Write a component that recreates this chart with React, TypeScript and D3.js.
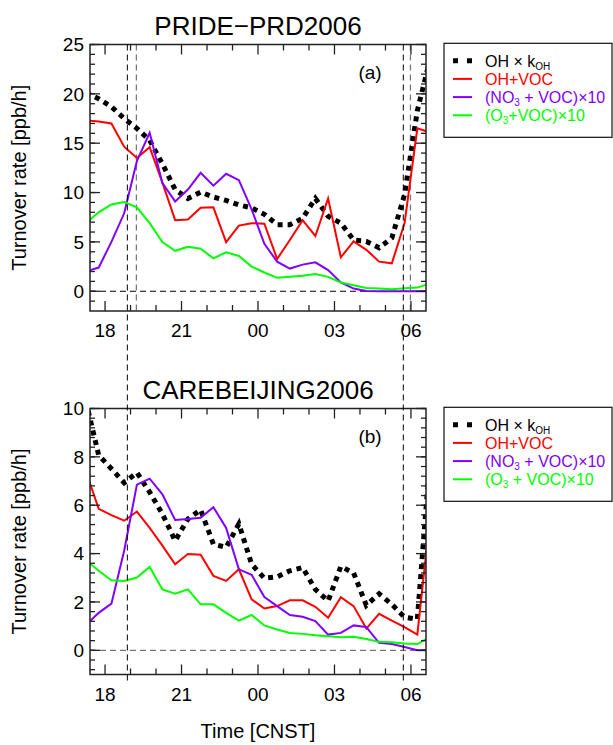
import React, { useEffect, useRef } from 'react';
import * as d3 from 'd3';

// half-hour time stamps, hours since midnight of the first day (24 = 00, 30 = 06)
const hours = [17.25, 17.75, 18.25, 18.75, 19.25, 19.75, 20.25, 20.75, 21.25, 21.75, 22.25, 22.75, 23.25, 23.75,
  24.25, 24.75, 25.25, 25.75, 26.25, 26.75, 27.25, 27.75, 28.25, 28.75, 29.25, 29.75, 30.25, 30.75];

const xTickHours = [18, 21, 24, 27, 30];
const xTickLabels = ['18', '21', '00', '03', '06'];

// PRIDE-PRD2006
const prdOHk = [20.1, 19.5, 18.7, 17.5, 16.5, 15.3, 12.9, 10.3, 9.4, 10.05, 9.55, 9.2, 8.75, 8.45,
  7.8, 6.75, 6.75, 7.4, 9.4, 7.6, 6.9, 5.2, 5.05, 4.4, 5.4, 9.8, 18.3, 23.5];
const prdOHVOC = [17.3, 17.2, 17.0, 14.65, 13.5, 14.6, 11.0, 7.2, 7.26, 8.45, 8.5, 4.98, 6.65, 6.9,
  6.85, 3.27, 5.2, 7.2, 5.6, 9.4, 3.44, 5.05, 4.2, 3.0, 2.83, 6.9, 16.5, 16.1];
const prdNO3VOC = [2.0, 2.4, 5.0, 7.9, 13.2, 16.05, 10.95, 9.1, 10.3, 12.0, 10.7, 11.9, 11.25, 8.3,
  4.8, 3.0, 2.3, 2.7, 2.93, 2.15, 0.89, 0.27, 0.03, 0, 0, 0, 0, 0];
const prdO3VOC = [6.9, 8.0, 8.8, 9.03, 8.5, 6.9, 4.98, 4.1, 4.5, 4.3, 3.34, 3.95, 3.58, 2.5,
  1.9, 1.36, 1.46, 1.57, 1.74, 1.46, 0.89, 0.61, 0.34, 0.27, 0.2, 0.3, 0.37, 0.8];

// CAREBEIJING2006
const cbOHk = [10.3, 8.07, 7.51, 6.93, 7.35, 6.54, 5.64, 4.53, 5.43, 5.81, 4.39, 4.26, 5.23, 3.56,
  2.98, 3.04, 3.29, 3.42, 2.52, 2.04, 3.47, 3.2, 1.86, 2.34, 1.9, 1.37, 1.28, 8.0];
const cbOHVOC = [7.4, 5.85, 5.59, 5.36, 5.74, 5.06, 4.33, 3.56, 3.98, 3.95, 3.08, 2.87, 3.35, 2.11,
  1.73, 1.83, 2.07, 2.07, 1.8, 1.35, 2.2, 1.83, 0.9, 1.51, 1.23, 0.96, 0.65, 5.5];
const cbNO3VOC = [1.05, 1.55, 1.93, 4.12, 6.85, 7.1, 6.45, 5.39, 5.43, 5.48, 5.92, 5.06, 3.35, 3.12,
  2.2, 1.83, 1.46, 1.39, 1.21, 0.65, 0.72, 1.03, 0.96, 0.31, 0.26, 0.14, 0, 0];
const cbO3VOC = [3.73, 3.29, 2.9, 2.87, 3.01, 3.45, 2.52, 2.34, 2.52, 1.9, 1.9, 1.55, 1.23, 1.46,
  1.03, 0.86, 0.72, 0.68, 0.62, 0.58, 0.54, 0.56, 0.47, 0.35, 0.33, 0.28, 0.26, 0.55];

// vertical markers (sunset / sunrise)
const blackMarkers = [18.875, 29.7];
const grayMarkersPRD = [19.23, 29.98];

const colors = { oh: '#000000', ohvoc: '#ff0000', no3: '#8000ff', o3: '#00ff00' };
const FONT = '"Liberation Sans", Arial, Helvetica, sans-serif';

function App() {
  const svgRef = useRef(null);

  useEffect(() => {
    const svg = d3.select(svgRef.current);
    svg.selectAll('*').remove();

    const left = 90;
    const right = 426;
    const x = d3.scaleLinear().domain([17.41, 30.59]).range([left, right]);

    const panels = [
      {
        key: 'a', title: 'PRIDE\u2212PRD2006', tag: '(a)', top: 44.5, bottom: 311,
        domain: [-2, 25], major: 5, minorStep: 1,
        data: [prdOHk, prdOHVOC, prdNO3VOC, prdO3VOC], zeroColor: '#000',
        grayLines: grayMarkersPRD, o3Label: ['(O', '3', '+VOC)\u00d710'],
      },
      {
        key: 'b', title: 'CAREBEIJING2006', tag: '(b)', top: 408.5, bottom: 674.5,
        domain: [-1, 10], major: 2, minorStep: 0.4,
        data: [cbOHk, cbOHVOC, cbNO3VOC, cbO3VOC], zeroColor: '#555',
        grayLines: [], o3Label: ['(O', '3', ' + VOC)\u00d710'],
      },
    ];

    panels.forEach((p) => {
      const y = d3.scaleLinear().domain(p.domain).range([p.bottom, p.top]);
      const g = svg.append('g');

      g.append('clipPath').attr('id', `clip-${p.key}`)
        .append('rect')
        .attr('x', left).attr('y', p.top)
        .attr('width', right - left).attr('height', p.bottom - p.top);

      // zero line
      g.append('line')
        .attr('x1', left).attr('x2', right)
        .attr('y1', y(0)).attr('y2', y(0))
        .attr('stroke', p.zeroColor).attr('stroke-width', 1)
        .attr('stroke-dasharray', '6,4');

      // gray dashed markers (panel a only)
      p.grayLines.forEach((h) => {
        g.append('line')
          .attr('x1', x(h)).attr('x2', x(h))
          .attr('y1', p.top).attr('y2', p.bottom)
          .attr('stroke', '#777').attr('stroke-width', 1.3)
          .attr('stroke-dasharray', '6,4');
      });

      // series
      const line = d3.line()
        .x((d, i) => x(hours[i]))
        .y((d) => y(d));

      const styles = [
        { color: colors.oh, width: 5, dash: '5,5' },
        { color: colors.ohvoc, width: 2, dash: null },
        { color: colors.no3, width: 2, dash: null },
        { color: colors.o3, width: 2, dash: null },
      ];
      const lines = g.append('g').attr('clip-path', `url(#clip-${p.key})`);
      p.data.forEach((vals, k) => {
        lines.append('path')
          .datum(vals)
          .attr('d', line)
          .attr('fill', 'none')
          .attr('stroke', styles[k].color)
          .attr('stroke-width', styles[k].width)
          .attr('stroke-dasharray', styles[k].dash)
          .attr('stroke-linejoin', 'miter');
      });

      // frame
      g.append('rect')
        .attr('x', left).attr('y', p.top)
        .attr('width', right - left).attr('height', p.bottom - p.top)
        .attr('fill', 'none').attr('stroke', '#222').attr('stroke-width', 1.5);

      // y ticks (both sides, inward)
      const majorY = d3.range(0, p.domain[1] + 0.001, p.major);
      const minorY = d3.range(p.domain[0] + (p.key === 'b' ? 0.2 : 0), p.domain[1] + 0.001, p.minorStep)
        .filter((v) => v > p.domain[0]);
      const tickG = g.append('g').attr('stroke', '#222').attr('stroke-width', 1.3);
      minorY.forEach((v) => {
        tickG.append('line').attr('x1', left).attr('x2', left + 5).attr('y1', y(v)).attr('y2', y(v));
        tickG.append('line').attr('x1', right).attr('x2', right - 5).attr('y1', y(v)).attr('y2', y(v));
      });
      majorY.forEach((v) => {
        tickG.append('line').attr('x1', left).attr('x2', left + 10).attr('y1', y(v)).attr('y2', y(v));
        tickG.append('line').attr('x1', right).attr('x2', right - 10).attr('y1', y(v)).attr('y2', y(v));
      });
      g.selectAll('.ylab')
        .data(majorY)
        .join('text')
        .attr('x', left - 6)
        .attr('y', (d) => y(d))
        .attr('dy', '0.36em')
        .attr('text-anchor', 'end')
        .style('font-family', FONT)
        .style('font-size', '19px')
        .text((d) => d3.format('d')(d));

      // x ticks (top and bottom, inward)
      d3.range(18, 31, 1).forEach((h) => {
        const len = h % 3 === 0 ? 10 : 6;
        tickG.append('line').attr('x1', x(h)).attr('x2', x(h)).attr('y1', p.bottom).attr('y2', p.bottom - len);
        tickG.append('line').attr('x1', x(h)).attr('x2', x(h)).attr('y1', p.top).attr('y2', p.top + len);
      });
      g.selectAll('.xlab')
        .data(xTickHours)
        .join('text')
        .attr('x', (d) => x(d))
        .attr('y', p.bottom + 26)
        .attr('text-anchor', 'middle')
        .style('font-family', FONT)
        .style('font-size', '19px')
        .text((d, i) => xTickLabels[i]);

      // titles
      g.append('text')
        .attr('x', (left + right) / 2).attr('y', p.top - 9.5)
        .attr('text-anchor', 'middle')
        .style('font-family', FONT).style('font-size', '26px')
        .text(p.title);

      g.append('text')
        .attr('x', 370).attr('y', p.top + 34.5)
        .attr('text-anchor', 'middle')
        .style('font-family', FONT).style('font-size', '19px')
        .text(p.tag);

      const cy = (p.top + p.bottom) / 2;
      g.append('text')
        .attr('transform', `translate(26,${cy}) rotate(-90)`)
        .attr('text-anchor', 'middle')
        .style('font-family', FONT).style('font-size', '20px')
        .text('Turnover rate [ppb/h]');

      // legend
      const boxTop = p.top - 1.2;
      const lg = g.append('g');
      lg.append('rect')
        .attr('x', 444).attr('y', boxTop)
        .attr('width', 168).attr('height', 94)
        .attr('fill', 'white').attr('stroke', '#111').attr('stroke-width', 1.2);

      const entries = [
        { color: colors.oh, parts: ['OH \u00d7 k', 'OH', ''] },
        { color: colors.ohvoc, parts: ['OH+VOC'] },
        { color: colors.no3, parts: ['(NO', '3', ' + VOC)\u00d710'] },
        { color: colors.o3, parts: p.o3Label },
      ];
      entries.forEach((e, i) => {
        const by = boxTop + 23.4 + i * 18.2;
        lg.append('line')
          .attr('x1', 453).attr('x2', 472)
          .attr('y1', by - 6).attr('y2', by - 6)
          .attr('stroke', e.color)
          .attr('stroke-width', i === 0 ? 5 : 2)
          .attr('stroke-dasharray', i === 0 ? '5,9' : null);
        const t = lg.append('text')
          .attr('x', 485).attr('y', by)
          .attr('fill', e.color)
          .style('font-family', FONT).style('font-size', '16px');
        t.append('tspan').text(e.parts[0]);
        if (e.parts.length > 1) {
          t.append('tspan').attr('dy', 3).style('font-size', '10px').text(e.parts[1]);
          if (e.parts[2]) t.append('tspan').attr('dy', -3).text(e.parts[2]);
        }
      });
    });

    // long dashed markers crossing both panels
    blackMarkers.forEach((h) => {
      svg.append('line')
        .attr('x1', x(h)).attr('x2', x(h))
        .attr('y1', 44.5).attr('y2', 684)
        .attr('stroke', '#000').attr('stroke-width', 1)
        .attr('stroke-dasharray', '6,4');
    });

    svg.append('text')
      .attr('x', (left + right) / 2).attr('y', 738)
      .attr('text-anchor', 'middle')
      .style('font-family', FONT).style('font-size', '20px')
      .text('Time [CNST]');
  }, []);

  return (
    <div style={{ position: 'absolute', left: 0, top: 0 }}>
      <svg ref={svgRef} width={613} height={745} style={{ display: 'block', background: '#fff' }}></svg>
    </div>
  );
}

export default App;
